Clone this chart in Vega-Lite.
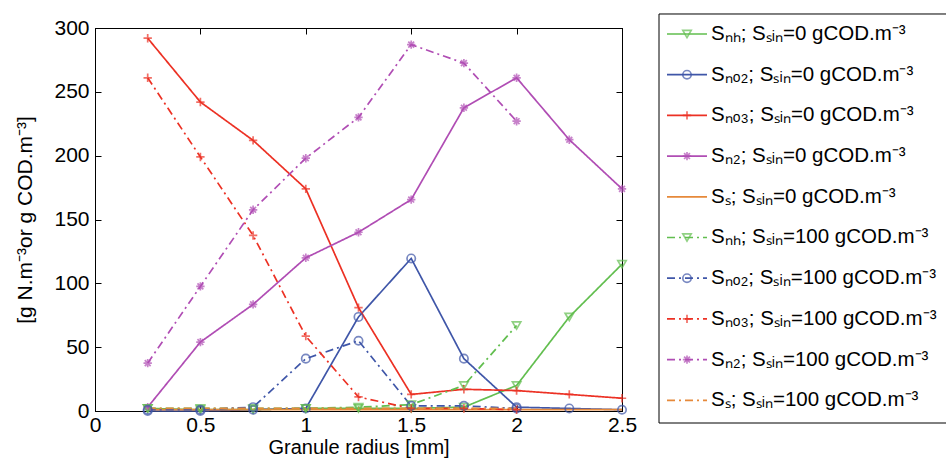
{
  "$schema": "https://vega.github.io/schema/vega-lite/v6.json",
  "background": "white",
  "padding": {"left": 14, "top": 13, "right": 0, "bottom": 0},
  "config": {
    "font": "Liberation Sans",
    "view": {"stroke": null},
    "axis": {"grid": false, "domainColor": "black", "tickColor": "black", "labelColor": "black", "titleColor": "black", "titleFontWeight": "normal", "labelFlush": false, "labelOverlap": false}
  },
  "datasets": {
    "conc": [
      {"r": 0.25, "v": 2, "sp": "NH", "sin": "0"},
      {"r": 0.5, "v": 1, "sp": "NH", "sin": "0"},
      {"r": 0.75, "v": 1, "sp": "NH", "sin": "0"},
      {"r": 1.0, "v": 2, "sp": "NH", "sin": "0"},
      {"r": 1.25, "v": 2, "sp": "NH", "sin": "0"},
      {"r": 1.5, "v": 2, "sp": "NH", "sin": "0"},
      {"r": 1.75, "v": 3, "sp": "NH", "sin": "0"},
      {"r": 2.0, "v": 20, "sp": "NH", "sin": "0"},
      {"r": 2.25, "v": 73.7, "sp": "NH", "sin": "0"},
      {"r": 2.5, "v": 115, "sp": "NH", "sin": "0"},
      {"r": 0.25, "v": 0, "sp": "NO2", "sin": "0"},
      {"r": 0.5, "v": 0, "sp": "NO2", "sin": "0"},
      {"r": 0.75, "v": 1, "sp": "NO2", "sin": "0"},
      {"r": 1.0, "v": 2, "sp": "NO2", "sin": "0"},
      {"r": 1.25, "v": 73.7, "sp": "NO2", "sin": "0"},
      {"r": 1.5, "v": 119.5, "sp": "NO2", "sin": "0"},
      {"r": 1.75, "v": 41, "sp": "NO2", "sin": "0"},
      {"r": 2.0, "v": 3, "sp": "NO2", "sin": "0"},
      {"r": 2.25, "v": 2, "sp": "NO2", "sin": "0"},
      {"r": 2.5, "v": 1, "sp": "NO2", "sin": "0"},
      {"r": 0.25, "v": 292, "sp": "NO3", "sin": "0"},
      {"r": 0.5, "v": 242, "sp": "NO3", "sin": "0"},
      {"r": 0.75, "v": 212, "sp": "NO3", "sin": "0"},
      {"r": 1.0, "v": 174, "sp": "NO3", "sin": "0"},
      {"r": 1.25, "v": 81, "sp": "NO3", "sin": "0"},
      {"r": 1.5, "v": 13, "sp": "NO3", "sin": "0"},
      {"r": 1.75, "v": 17, "sp": "NO3", "sin": "0"},
      {"r": 2.0, "v": 16, "sp": "NO3", "sin": "0"},
      {"r": 2.25, "v": 13, "sp": "NO3", "sin": "0"},
      {"r": 2.5, "v": 10, "sp": "NO3", "sin": "0"},
      {"r": 0.25, "v": 3, "sp": "N2", "sin": "0"},
      {"r": 0.5, "v": 54, "sp": "N2", "sin": "0"},
      {"r": 0.75, "v": 83.5, "sp": "N2", "sin": "0"},
      {"r": 1.0, "v": 120, "sp": "N2", "sin": "0"},
      {"r": 1.25, "v": 140, "sp": "N2", "sin": "0"},
      {"r": 1.5, "v": 165.6, "sp": "N2", "sin": "0"},
      {"r": 1.75, "v": 237.5, "sp": "N2", "sin": "0"},
      {"r": 2.0, "v": 261, "sp": "N2", "sin": "0"},
      {"r": 2.25, "v": 212.5, "sp": "N2", "sin": "0"},
      {"r": 2.5, "v": 174, "sp": "N2", "sin": "0"},
      {"r": 0.25, "v": 1, "sp": "S", "sin": "0"},
      {"r": 0.5, "v": 1, "sp": "S", "sin": "0"},
      {"r": 0.75, "v": 1, "sp": "S", "sin": "0"},
      {"r": 1.0, "v": 1, "sp": "S", "sin": "0"},
      {"r": 1.25, "v": 1, "sp": "S", "sin": "0"},
      {"r": 1.5, "v": 1, "sp": "S", "sin": "0"},
      {"r": 1.75, "v": 1, "sp": "S", "sin": "0"},
      {"r": 2.0, "v": 1, "sp": "S", "sin": "0"},
      {"r": 2.25, "v": 1, "sp": "S", "sin": "0"},
      {"r": 2.5, "v": 1, "sp": "S", "sin": "0"},
      {"r": 0.25, "v": 2, "sp": "NH", "sin": "100"},
      {"r": 0.5, "v": 2, "sp": "NH", "sin": "100"},
      {"r": 0.75, "v": 2, "sp": "NH", "sin": "100"},
      {"r": 1.0, "v": 2, "sp": "NH", "sin": "100"},
      {"r": 1.25, "v": 3, "sp": "NH", "sin": "100"},
      {"r": 1.5, "v": 5, "sp": "NH", "sin": "100"},
      {"r": 1.75, "v": 20, "sp": "NH", "sin": "100"},
      {"r": 2.0, "v": 67, "sp": "NH", "sin": "100"},
      {"r": 0.25, "v": 1, "sp": "NO2", "sin": "100"},
      {"r": 0.5, "v": 1, "sp": "NO2", "sin": "100"},
      {"r": 0.75, "v": 3, "sp": "NO2", "sin": "100"},
      {"r": 1.0, "v": 41, "sp": "NO2", "sin": "100"},
      {"r": 1.25, "v": 55, "sp": "NO2", "sin": "100"},
      {"r": 1.5, "v": 4, "sp": "NO2", "sin": "100"},
      {"r": 1.75, "v": 4, "sp": "NO2", "sin": "100"},
      {"r": 2.0, "v": 2, "sp": "NO2", "sin": "100"},
      {"r": 0.25, "v": 261, "sp": "NO3", "sin": "100"},
      {"r": 0.5, "v": 199, "sp": "NO3", "sin": "100"},
      {"r": 0.75, "v": 137.5, "sp": "NO3", "sin": "100"},
      {"r": 1.0, "v": 58.6, "sp": "NO3", "sin": "100"},
      {"r": 1.25, "v": 11, "sp": "NO3", "sin": "100"},
      {"r": 1.5, "v": 2, "sp": "NO3", "sin": "100"},
      {"r": 1.75, "v": 2, "sp": "NO3", "sin": "100"},
      {"r": 2.0, "v": 1, "sp": "NO3", "sin": "100"},
      {"r": 0.25, "v": 37.5, "sp": "N2", "sin": "100"},
      {"r": 0.5, "v": 97.6, "sp": "N2", "sin": "100"},
      {"r": 0.75, "v": 157.6, "sp": "N2", "sin": "100"},
      {"r": 1.0, "v": 198, "sp": "N2", "sin": "100"},
      {"r": 1.25, "v": 230, "sp": "N2", "sin": "100"},
      {"r": 1.5, "v": 287, "sp": "N2", "sin": "100"},
      {"r": 1.75, "v": 272.5, "sp": "N2", "sin": "100"},
      {"r": 2.0, "v": 227, "sp": "N2", "sin": "100"},
      {"r": 0.25, "v": 2, "sp": "S", "sin": "100"},
      {"r": 0.5, "v": 2, "sp": "S", "sin": "100"},
      {"r": 0.75, "v": 2, "sp": "S", "sin": "100"},
      {"r": 1.0, "v": 2, "sp": "S", "sin": "100"},
      {"r": 1.25, "v": 2, "sp": "S", "sin": "100"},
      {"r": 1.5, "v": 2, "sp": "S", "sin": "100"},
      {"r": 1.75, "v": 2, "sp": "S", "sin": "100"},
      {"r": 2.0, "v": 2, "sp": "S", "sin": "100"}
    ],
    "leg": [
      {"idx": 0, "sp": "NH", "sin": "0", "label": "Sₙₕ; Sₛᵢₙ=0 gCOD.m⁻³"},
      {"idx": 1, "sp": "NO2", "sin": "0", "label": "Sₙₒ₂; Sₛᵢₙ=0 gCOD.m⁻³"},
      {"idx": 2, "sp": "NO3", "sin": "0", "label": "Sₙₒ₃; Sₛᵢₙ=0 gCOD.m⁻³"},
      {"idx": 3, "sp": "N2", "sin": "0", "label": "Sₙ₂; Sₛᵢₙ=0 gCOD.m⁻³"},
      {"idx": 4, "sp": "S", "sin": "0", "label": "Sₛ; Sₛᵢₙ=0 gCOD.m⁻³"},
      {"idx": 5, "sp": "NH", "sin": "100", "label": "Sₙₕ; Sₛᵢₙ=100 gCOD.m⁻³"},
      {"idx": 6, "sp": "NO2", "sin": "100", "label": "Sₙₒ₂; Sₛᵢₙ=100 gCOD.m⁻³"},
      {"idx": 7, "sp": "NO3", "sin": "100", "label": "Sₙₒ₃; Sₛᵢₙ=100 gCOD.m⁻³"},
      {"idx": 8, "sp": "N2", "sin": "100", "label": "Sₙ₂; Sₛᵢₙ=100 gCOD.m⁻³"},
      {"idx": 9, "sp": "S", "sin": "100", "label": "Sₛ; Sₛᵢₙ=100 gCOD.m⁻³"}
    ]
  },
  "spacing": 20,
  "hconcat": [
    {
      "width": 527,
      "height": 383,
      "view": {"stroke": "black", "strokeWidth": 1},
      "data": {"name": "conc"},
      "resolve": {"axis": {"x": "independent", "y": "independent"}},
      "layer": [
        {
          "mark": {"type": "line", "strokeWidth": 1.7},
          "encoding": {
            "x": {"field": "r", "type": "quantitative", "scale": {"domain": [0, 2.5], "nice": false},
              "axis": {"orient": "bottom", "values": [0, 0.5, 1, 1.5, 2, 2.5], "format": ".2~f", "labelFontSize": 21, "tickSize": -6, "labelPadding": 9, "title": "Granule radius [mm]", "titleFontSize": 20, "titlePadding": 2}},
            "y": {"field": "v", "type": "quantitative", "scale": {"domain": [0, 300], "nice": false},
              "axis": {"orient": "left", "values": [0, 50, 100, 150, 200, 250, 300], "labelFontSize": 21, "tickSize": -6, "labelPadding": 12, "title": "[g N.m⁻³or g COD.m⁻³]", "titleFontSize": 21, "titlePadding": 18}},
            "color": {"field": "sp", "type": "nominal", "scale": {"domain": ["NH", "NO2", "NO3", "N2", "S"], "range": ["#62be4f", "#3f56a8", "#ec3124", "#b04db4", "#e6893a"]}, "legend": null},
            "strokeDash": {"field": "sin", "type": "nominal", "scale": {"domain": ["0", "100"], "range": [[1, 0], [8, 4, 2, 4]]}, "legend": null}
          }
        },
        {
          "transform": [{"filter": "datum.sp != 'S'"}],
          "mark": {"type": "point", "filled": false, "strokeWidth": 1.7, "size": 70},
          "encoding": {
            "x": {"field": "r", "type": "quantitative", "scale": {"domain": [0, 2.5], "nice": false},
              "axis": {"orient": "top", "values": [0, 0.5, 1, 1.5, 2, 2.5], "labels": false, "tickSize": -6, "title": null}},
            "y": {"field": "v", "type": "quantitative", "scale": {"domain": [0, 300], "nice": false},
              "axis": {"orient": "right", "values": [0, 50, 100, 150, 200, 250, 300], "labels": false, "tickSize": -6, "title": null}},
            "color": {"field": "sp", "type": "nominal", "legend": null},
            "shape": {"field": "sp", "type": "nominal", "scale": {"domain": ["NH", "NO2", "NO3", "N2"], "range": ["triangle-down", "circle", "M-1,0L1,0M0,-1L0,1", "M-1,0L1,0M0,-1L0,1M-0.7,-0.7L0.7,0.7M-0.7,0.7L0.7,-0.7"]}, "legend": null}
          }
        }
      ]
    },
    {
      "width": 300,
      "height": 383,
      "layer": [
        {
          "data": {"values": [{}]},
          "mark": {"type": "rect", "filled": false, "stroke": "black", "strokeWidth": 1},
          "encoding": {
            "x": {"datum": 0, "type": "quantitative", "scale": {"domain": [0, 300], "nice": false, "zero": false}, "axis": null},
            "x2": {"datum": 300},
            "y": {"datum": -0.491, "type": "quantitative", "scale": {"domain": [-0.147, 9.263], "nice": false, "zero": false, "reverse": true}, "axis": null},
            "y2": {"datum": 9.558}
          }
        },
        {
          "data": {"name": "leg"},
          "mark": {"type": "rule", "strokeWidth": 1.7},
          "encoding": {
            "x": {"datum": 8, "type": "quantitative"},
            "x2": {"datum": 48},
            "y": {"field": "idx", "type": "quantitative"},
            "color": {"field": "sp", "type": "nominal", "legend": null},
            "strokeDash": {"field": "sin", "type": "nominal", "legend": null}
          }
        },
        {
          "data": {"name": "leg"},
          "transform": [{"filter": "datum.sp != 'S'"}],
          "mark": {"type": "point", "filled": false, "strokeWidth": 1.7, "size": 70},
          "encoding": {
            "x": {"datum": 28, "type": "quantitative"},
            "y": {"field": "idx", "type": "quantitative"},
            "color": {"field": "sp", "type": "nominal", "legend": null},
            "shape": {"field": "sp", "type": "nominal", "legend": null}
          }
        },
        {
          "data": {"name": "leg"},
          "mark": {"type": "text", "align": "left", "baseline": "middle", "fontSize": 20.5, "color": "black", "font": "Liberation Sans"},
          "encoding": {
            "x": {"datum": 52, "type": "quantitative"},
            "y": {"field": "idx", "type": "quantitative"},
            "text": {"field": "label"}
          }
        }
      ]
    }
  ]
}
